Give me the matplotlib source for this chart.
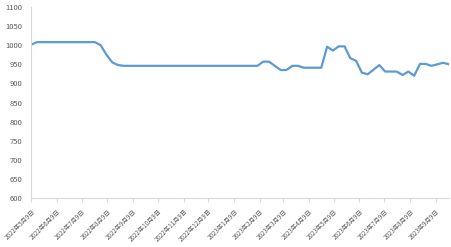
import matplotlib.pyplot as plt
import matplotlib.transforms as mtransforms
import pandas as pd

plt.rcParams['font.family'] = ['Noto Sans CJK SC', 'DejaVu Sans']

# weekly data, 2022-05-09 .. 2023-09-25
dates = pd.date_range('2022-05-09', periods=73, freq='7D')
values = [1001, 1008, 1008, 1008, 1008, 1008, 1008, 1008, 1008, 1008,
          1008, 1008, 1000, 975, 955, 948, 946,
          946, 946, 946, 946, 946, 946, 946, 946, 946, 946,
          946, 946, 946, 946, 946, 946, 946, 946, 946, 946,
          946, 946, 946,
          957, 957, 946, 935, 935, 946, 946, 941, 941, 941,
          941, 996, 986, 997, 997, 966, 959, 928, 924, 936,
          948, 931, 931, 931, 922, 931, 920, 951, 951, 946,
          950, 954, 950]

tick_dates = pd.date_range('2022-05-01', periods=17, freq='MS') + pd.Timedelta(days=8)
tick_labels = [f'{d.year}年{d.month}月{d.day}日' for d in tick_dates]

fig = plt.figure(figsize=(4.52, 2.47), dpi=100)
ax = fig.add_axes([31 / 452, 49 / 247, 418 / 452, 191 / 247])

ax.plot(dates, values, color='#5B9BD5', linewidth=1.6, solid_joinstyle='round')

ax.set_ylim(600, 1100)
ax.set_yticks(range(600, 1101, 50))
ax.set_xticks(tick_dates)
ax.set_xticklabels(tick_labels, rotation=45, ha='right', rotation_mode='anchor')
ax.set_xlim(dates[0], dates[-1])

# nudge date labels a bit to the right, like the original
shift = mtransforms.ScaledTranslation(3 / 100, 0, fig.dpi_scale_trans)
for lbl in ax.get_xticklabels():
    lbl.set_transform(lbl.get_transform() + shift)

for s in ['top', 'right']:
    ax.spines[s].set_visible(False)
ax.spines['left'].set_color('#d9d9d9')
ax.spines['bottom'].set_color('#d9d9d9')
ax.spines['left'].set_linewidth(0.8)
ax.spines['bottom'].set_linewidth(0.8)

ax.tick_params(axis='y', length=0, labelsize=5.5, labelcolor='#595959', pad=6)
ax.tick_params(axis='x', length=3, color='#d9d9d9', labelsize=4.5,
               labelcolor='#595959', pad=4)

fig.savefig('out.png', dpi=100)
